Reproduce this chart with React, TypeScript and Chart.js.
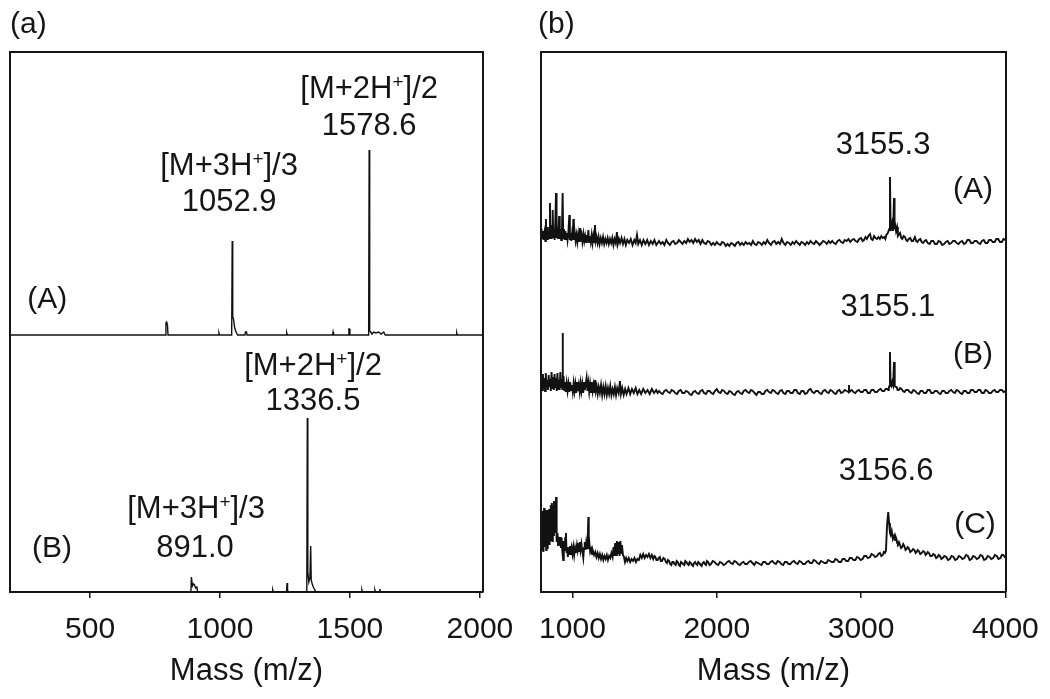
import React, { useEffect, useRef } from "react";
import { Chart, registerables } from "chart.js";

Chart.register(...registerables);

const FONT = '"Liberation Sans", Arial, Helvetica, sans-serif';
const INK = "#151515";

// ---------- Panel (a): x range and ticks ----------
const rangeA: [number, number] = [192, 2012];
const ticksA = [500, 1000, 1500, 2000];

// spectrum (A) of panel a: [m/z, intensity]
const specA_a: [number, number][] = [
  [192, 0], [790, 0], [792, 12], [795, 13], [798, 10], [800, 0], [994, 0], [996, 2], [998, 0],
  [1045, 0], [1047, 94], [1049, 18], [1052, 16], [1056, 8], [1060, 4], [1064, 2], [1068, 0],
  [1096, 0], [1098, 3], [1102, 3], [1104, 0], [1255, 0], [1257, 2], [1259, 0],
  [1433, 0], [1435, 3], [1437, 0], [1494, 0], [1496, 6], [1498, 6], [1500, 0],
  [1572, 0], [1574, 185], [1576, 4], [1580, 3], [1585, 1], [1592, 3], [1600, 2], [1610, 3],
  [1620, 1], [1630, 3], [1636, 0], [1909, 0], [1911, 2], [1913, 0], [2012, 0],
];

// spectrum (B) of panel a
const specB_a: [number, number][] = [
  [192, 0], [888, 0], [890, 15], [892, 15], [894, 6], [898, 8], [902, 7], [906, 4], [911, 5], [914, 0],
  [1201, 0], [1203, 2], [1205, 0], [1256, 0], [1258, 9], [1260, 2], [1262, 0],
  [1334, 0], [1336, 174], [1338, 20], [1342, 10], [1346, 14], [1349, 46], [1351, 12], [1355, 8],
  [1359, 5], [1363, 3], [1367, 1], [1371, 0], [1544, 0], [1546, 2], [1548, 0],
  [1594, 0], [1596, 2], [1598, 0], [1613, 0], [1615, 3], [1617, 0], [2012, 0],
];

// ---------- Panel (b): x range and ticks ----------
const rangeB: [number, number] = [782, 4004];
const ticksB = [1000, 2000, 3000, 4000];

const specA_b: [number, number][] = [
  [784, 6], [786, 14], [790, 4], [796, 12], [800, 3], [806, 10], [812, 2], [816, 24], [820, 4], [826, 16],
  [830, 3], [836, 12], [840, 5], [844, 40], [848, 6], [852, 18], [856, 4], [860, 12], [863, 33], [867, 6],
  [872, 14], [876, 3], [881, 20], [886, 50], [890, 5], [895, 16], [899, 4], [903, 12], [908, 27], [912, 4],
  [917, 14], [922, 3], [927, 12], [932, 50], [936, 5], [941, 14], [946, 3], [951, 12], [956, 4], [961, 10],
  [966, 3], [972, 11], [978, 28], [982, 3], [987, 10], [992, 2], [997, 9], [1002, 3], [1006, 24], [1010, 3],
  [1016, 10], [1022, 2], [1028, 8], [1034, 1], [1040, 9], [1046, 2], [1052, 15], [1057, 2], [1063, 8],
  [1069, 1], [1076, 9], [1082, 2], [1088, 7], [1094, 1], [1100, 8], [1105, 2], [1110, 13], [1115, 1],
  [1121, 7], [1127, 1], [1133, 8], [1139, 0], [1145, 7], [1150, 1], [1156, 18], [1161, 2], [1167, 6],
  [1174, 0], [1181, 6], [1188, -1], [1196, 5], [1204, 0], [1212, 6], [1220, -1], [1228, 4], [1236, 0],
  [1244, 5], [1252, -1], [1260, 4], [1268, 0], [1276, 5], [1284, -2], [1292, 4], [1300, 0], [1308, 11],
  [1314, -1], [1322, 4], [1330, 0], [1340, 5], [1350, -1], [1360, 4], [1370, -2], [1380, 3], [1392, 0],
  [1404, 4], [1416, -2], [1428, 3], [1438, 0], [1447, 8], [1456, -1], [1468, 3], [1480, -2], [1492, 3],
  [1505, -1], [1518, 3], [1530, -2], [1543, 2], [1556, -1], [1568, 3], [1581, -2],
  [1600, 2], [1612, -1], [1625, 1], [1637, -2], [1650, 3], [1662, 0], [1675, -2], [1688, 1], [1700, 2],
  [1712, -1], [1725, 0], [1737, 3], [1750, 1], [1762, -1], [1775, 2], [1788, 0], [1800, 4], [1812, 1],
  [1825, 3], [1837, 0], [1850, 4], [1862, 1], [1875, 3], [1887, -1], [1900, 3], [1912, 0], [1925, -1],
  [1937, 2], [1950, 1], [1962, -2], [1975, 0], [1987, -2], [2000, 1], [2012, -1], [2025, -2], [2037, 1],
  [2050, 0], [2062, -3], [2075, -1], [2087, -3], [2100, 0], [2112, -1], [2125, -3], [2137, 0], [2150, 1],
  [2162, -2], [2175, 0], [2187, -2], [2200, 1], [2212, -1], [2225, 0], [2237, -2], [2250, 2], [2262, -1],
  [2275, -2], [2287, 1], [2300, 0], [2312, -2], [2325, 1], [2337, -1], [2350, 3], [2362, 0], [2375, -2],
  [2387, 1], [2400, 2], [2412, -1], [2425, 1], [2437, -1], [2450, 4], [2462, 0], [2475, -2], [2487, 1],
  [2500, 0], [2512, -2], [2525, 1], [2537, -1], [2550, 2], [2562, 0], [2575, -2], [2587, 1], [2600, 0],
  [2612, -2], [2625, 1], [2637, -1], [2650, 2], [2662, 0], [2675, -1], [2687, 2], [2700, 0], [2712, -2],
  [2725, 0], [2737, 2], [2750, 1], [2762, -1], [2775, 2], [2787, 0], [2800, 2], [2812, 0], [2825, -1],
  [2837, 2], [2850, 3], [2862, 1], [2875, 0], [2887, 3], [2900, 2], [2912, 4], [2925, 1], [2937, 3],
  [2950, 4], [2962, 2], [2975, 1], [2987, 4], [3000, 5], [3010, 2], [3020, 3], [3030, 6], [3040, 4],
  [3050, 7], [3062, 9], [3070, 4], [3080, 3], [3090, 7], [3100, 5], [3110, 4], [3120, 6], [3130, 4],
  [3140, 7], [3150, 5], [3160, 6], [3168, 4], [3175, 8], [3185, 10], [3195, 14], [3200, 66], [3205, 12],
  [3215, 20], [3222, 12], [3228, 45], [3232, 14], [3236, 18], [3242, 12], [3249, 16], [3255, 7],
  [3260, 8], [3270, 10], [3278, 5], [3285, 4], [3295, 7], [3304, 6], [3312, 3], [3320, 2], [3330, 4],
  [3340, 5], [3350, 2], [3360, 2], [3373, 6], [3382, 2], [3390, 1], [3400, 3], [3410, 4], [3420, 1],
  [3430, 0], [3440, 2], [3450, 3], [3462, 0], [3475, -1], [3487, 2], [3500, 2], [3512, -1], [3525, -1],
  [3537, 2], [3550, 1], [3562, -2], [3575, -1], [3587, 1], [3600, 2], [3612, -1], [3625, 0], [3637, 2],
  [3650, 2], [3662, 0], [3675, -1], [3687, 1], [3700, 2], [3712, -1], [3725, 0], [3737, 3], [3750, 3],
  [3762, 0], [3775, 0], [3787, 2], [3800, 2], [3812, 0], [3825, -1], [3837, 2], [3850, 3], [3862, 0],
  [3875, 0], [3887, 3], [3900, 3], [3912, 1], [3925, 1], [3937, 4], [3950, 4], [3962, 1], [3975, 1],
  [3987, 4], [4004, 3],
];

const specB_b: [number, number][] = [
  [784, 4], [786, 16], [790, 2], [795, 18], [800, 3], [805, 14], [810, 1], [815, 19], [820, 4], [825, 12],
  [830, 2], [835, 17], [840, 5], [845, 13], [850, 1], [855, 20], [860, 3], [866, 15], [871, 2], [876, 18],
  [881, 4], [886, 14], [891, 1], [896, 19], [901, 3], [906, 12], [911, 2], [916, 20], [921, 5], [926, 13],
  [930, 3], [932, 59], [934, 4], [938, 16], [943, 2], [948, 10], [954, 0], [960, 9], [966, 1], [972, 8],
  [978, 0], [984, 10], [990, 2], [996, 7], [1002, 0], [1008, 9], [1014, 1], [1020, 8], [1026, -1],
  [1032, 10], [1038, 1], [1044, 7], [1050, 0], [1056, 9], [1062, 1], [1068, 8], [1074, -1], [1080, 10],
  [1086, 2], [1092, 8], [1098, 14], [1104, 1], [1110, 9], [1116, 0], [1122, 8], [1128, -1], [1134, 10],
  [1140, 1], [1146, 7], [1152, 0], [1156, 12], [1162, 1], [1168, 6], [1175, -2], [1182, 5], [1190, -1],
  [1198, 7], [1206, -3], [1214, 5], [1222, -2], [1230, 6], [1238, -3], [1246, 4], [1254, -2], [1262, 6],
  [1270, -3], [1278, 3], [1286, -2], [1294, 5], [1302, -3], [1310, 4], [1320, -1], [1329, 11], [1336, -2],
  [1345, 4], [1355, -3], [1365, 3], [1375, -2], [1388, 4], [1400, -2], [1412, 3], [1425, -1], [1438, 4],
  [1450, -2], [1463, 2], [1476, -2], [1490, 3], [1505, -1], [1520, 2], [1535, -2], [1550, 3], [1565, -1],
  [1580, 2], [1590, -1], [1600, 1], [1612, -1], [1625, -2], [1637, 1], [1650, 2], [1662, 0], [1675, -1],
  [1687, 2], [1700, 1], [1712, -1], [1725, -2], [1737, 1], [1750, 2], [1762, -1], [1775, -1], [1787, 1],
  [1800, 0], [1812, -2], [1825, -3], [1837, 0], [1850, 1], [1862, -1], [1875, -2], [1887, 1], [1900, 2],
  [1912, -1], [1925, -2], [1937, 1], [1950, 1], [1962, -1], [1975, -2], [1987, 1], [2000, 3], [2012, 0],
  [2025, -1], [2037, 2], [2050, 1], [2062, -1], [2075, -2], [2087, 1], [2100, 0], [2112, -2], [2125, -3],
  [2137, 0], [2150, 1], [2162, -1], [2175, -2], [2187, 1], [2200, 2], [2212, 0], [2225, -1], [2237, 2],
  [2250, 1], [2262, -1], [2275, -3], [2287, 0], [2300, 0], [2312, -2], [2325, -2], [2337, 1], [2350, 2],
  [2362, 0], [2375, -1], [2387, 2], [2400, 1], [2412, -1], [2425, -2], [2437, 1], [2450, 2], [2462, -1],
  [2475, -2], [2487, 1], [2500, 1], [2512, -1], [2525, -1], [2537, 2], [2550, 2], [2562, -1], [2575, -2],
  [2587, 1], [2600, 1], [2612, -2], [2625, -1], [2637, 2], [2650, 3], [2662, 0], [2675, -1], [2687, 1],
  [2700, 1], [2712, -1], [2725, -2], [2737, 1], [2750, 2], [2762, 0], [2775, -1], [2787, 2], [2800, 1],
  [2812, -1], [2825, -2], [2837, 1], [2850, 2], [2862, -1], [2875, 0], [2887, 2], [2900, 1], [2914, 0],
  [2916, 7], [2918, 0], [2925, 1], [2935, 2], [2947, 0], [2960, -1], [2972, 1], [2985, 2], [2997, 0],
  [3010, 0], [3022, 2], [3035, 2], [3047, -1], [3060, -1], [3072, 2], [3085, 2], [3097, 0], [3110, 0],
  [3122, 2], [3135, 3], [3147, 1], [3160, 1], [3170, 3], [3180, 3], [3188, 2], [3192, 4], [3196, 6],
  [3200, 40], [3204, 8], [3210, 6], [3216, 10], [3222, 7], [3228, 30], [3232, 9], [3234, 6], [3240, 5],
  [3246, 5], [3253, 2], [3260, 2], [3270, 4], [3280, 3], [3290, 1], [3300, 0], [3312, 2], [3325, 2],
  [3337, 0], [3350, -1], [3362, 2], [3375, 1], [3387, -1], [3400, -2], [3412, 1], [3425, 1], [3437, -1],
  [3450, -1], [3462, 2], [3475, 2], [3487, -1], [3500, -1], [3512, 1], [3525, 1], [3537, -1], [3550, -2],
  [3562, 1], [3575, 1], [3587, -1], [3600, -1], [3612, 1], [3625, 2], [3637, 0], [3650, -1], [3662, 2],
  [3675, 1], [3687, -1], [3700, -2], [3712, 1], [3725, 1], [3737, -1], [3750, -1], [3762, 2], [3775, 2],
  [3787, 0], [3800, 0], [3812, 2], [3825, 2], [3837, -1], [3850, -1], [3862, 2], [3875, 1], [3887, -1],
  [3900, -1], [3912, 1], [3925, 2], [3937, 0], [3950, 0], [3962, 2], [3975, 2], [3987, 0], [4004, 1],
];

const specC_b: [number, number][] = [
  [784, 40], [785, 12], [786, 48], [788, 15], [790, 52], [792, 14], [794, 50], [796, 18], [798, 45],
  [800, 11], [803, 55], [806, 16], [809, 50], [812, 20], [815, 53], [818, 13], [821, 50], [824, 18],
  [827, 53], [830, 14], [833, 50], [836, 21], [839, 54], [842, 18], [845, 52], [848, 22], [851, 58],
  [854, 25], [857, 60], [860, 22], [864, 58], [868, 28], [872, 62], [876, 30], [880, 60], [884, 35],
  [886, 66], [889, 40], [892, 21], [896, 30], [900, 18], [904, 26], [907, 23], [911, 18], [915, 26],
  [920, 15], [925, 25], [930, 12], [936, 3], [940, 22], [945, 12], [950, 25], [955, 30], [959, 10],
  [963, 16], [968, 6], [973, 15], [978, 8], [983, 17], [988, 8], [994, 15], [1000, 9], [1006, 16],
  [1012, 8], [1018, 15], [1024, 10], [1031, 18], [1036, 13], [1041, 20], [1046, 12], [1051, 21],
  [1056, 13], [1062, 19], [1068, 12], [1075, 5], [1080, 15], [1085, 21], [1090, 13], [1095, 20],
  [1100, 14], [1105, 19], [1110, 46], [1113, 14], [1118, 19], [1123, 11], [1130, 14], [1136, 9],
  [1142, 12], [1150, 8], [1158, 11], [1166, 6], [1174, 10], [1182, 5], [1190, 9], [1198, 4], [1206, 8],
  [1214, 3], [1222, 7], [1230, 4], [1238, 8], [1246, 3], [1254, 7], [1262, 5], [1270, 10], [1278, 6],
  [1284, 16], [1290, 7], [1296, 20], [1302, 8], [1308, 22], [1314, 9], [1320, 21], [1326, 7], [1332, 22],
  [1338, 10], [1343, 18], [1350, 8], [1357, 6], [1364, 1], [1372, 5], [1380, 2], [1390, 5], [1400, 1],
  [1410, 4], [1420, 2], [1430, 5], [1440, 1], [1450, 4], [1460, 3], [1470, 8], [1480, 5], [1490, 9],
  [1500, 5], [1510, 8], [1520, 6], [1530, 9], [1540, 5], [1550, 8], [1560, 4], [1568, 7], [1575, 6],
  [1582, 3], [1590, 3], [1597, 5], [1605, 6], [1612, 2], [1620, 2], [1630, 5], [1640, 4], [1647, 1],
  [1655, 0], [1662, 3], [1670, 2], [1677, -1], [1685, -2], [1692, 1], [1700, 1], [1707, -1], [1715, -2],
  [1722, 2], [1730, 1], [1737, -2], [1745, -3], [1752, 1], [1760, 0], [1767, -1], [1775, -2], [1782, 2],
  [1790, 1], [1797, -1], [1805, -2], [1812, 1], [1820, 0], [1827, -2], [1835, -3], [1842, 0], [1850, 1],
  [1857, -1], [1865, -2], [1872, 1], [1880, 0], [1887, -2], [1895, -3], [1902, 0], [1910, 1], [1917, -1],
  [1925, -2], [1932, 2], [1940, 1], [1950, -2], [1960, -1], [1972, 2], [1985, 1], [1997, -1], [2010, -2],
  [2022, 1], [2035, 0], [2047, -2], [2060, -1], [2072, 1], [2085, 2], [2097, 0], [2110, -1], [2122, 2],
  [2135, 1], [2147, -1], [2160, -2], [2172, 0], [2185, 1], [2197, -1], [2210, -1], [2222, 1], [2235, 2],
  [2247, 0], [2260, -2], [2272, 1], [2285, 0], [2297, -1], [2310, -2], [2322, 1], [2335, 1], [2347, -1],
  [2360, -1], [2372, 1], [2385, 2], [2397, 0], [2410, -1], [2422, 2], [2435, 1], [2447, -1], [2460, -2],
  [2472, 1], [2485, 1], [2497, -1], [2510, -1], [2522, 1], [2535, 2], [2547, 0], [2560, -1], [2572, 2],
  [2585, 1], [2597, -1], [2610, -1], [2622, 1], [2635, 2], [2647, 0], [2660, 0], [2672, 3], [2685, 2],
  [2697, 0], [2710, -1], [2722, 2], [2735, 1], [2747, 0], [2760, 0], [2772, 3], [2785, 2], [2797, 1],
  [2810, 1], [2822, 4], [2835, 3], [2847, 1], [2860, 1], [2872, 4], [2885, 4], [2897, 2], [2910, 2],
  [2922, 5], [2935, 5], [2947, 3], [2960, 3], [2972, 6], [2985, 5], [2997, 3], [3010, 4], [3022, 7],
  [3035, 7], [3047, 5], [3062, 6], [3072, 9], [3085, 8], [3097, 6], [3110, 7], [3120, 9], [3130, 10],
  [3140, 7], [3150, 8], [3158, 11], [3165, 10], [3172, 12], [3180, 38], [3188, 51], [3194, 40], [3200, 30],
  [3205, 28], [3212, 32], [3220, 24], [3228, 27], [3235, 23], [3240, 26], [3245, 24], [3250, 20],
  [3255, 19], [3262, 21], [3270, 18], [3277, 15], [3285, 16], [3292, 19], [3300, 17], [3308, 13],
  [3316, 14], [3322, 16], [3330, 15], [3340, 11], [3350, 12], [3360, 14], [3370, 13], [3378, 10],
  [3385, 11], [3392, 13], [3400, 12], [3410, 9], [3420, 10], [3430, 12], [3440, 11], [3447, 8],
  [3454, 9], [3462, 11], [3470, 10], [3480, 7], [3490, 7], [3500, 9], [3510, 8], [3520, 5], [3530, 6],
  [3538, 8], [3547, 7], [3556, 4], [3565, 5], [3577, 7], [3590, 6], [3602, 3], [3615, 4], [3627, 7],
  [3640, 6], [3652, 3], [3665, 4], [3677, 7], [3690, 6], [3702, 4], [3715, 5], [3727, 8], [3740, 7],
  [3752, 3], [3765, 4], [3777, 7], [3790, 6], [3802, 4], [3815, 5], [3827, 8], [3840, 7], [3852, 3],
  [3865, 4], [3877, 7], [3890, 6], [3902, 4], [3915, 5], [3927, 8], [3940, 7], [3952, 4], [3965, 5],
  [3975, 8], [3985, 8], [3995, 6], [4004, 7],
];

// vertical stacking offsets (layout)
const OFFSET_A_a = 257;
const OFFSET_B_a = 0;
const OFFSET_A_b = 349;
const OFFSET_B_b = 200;
const OFFSET_C_b = 29;

type Seg = [string, boolean];
type Label = { x: number; y: number; segs: Seg[]; size: number };

const labelsA: Label[] = [
  { x: 1574, y: 494, segs: [["[M+2H", false], ["+", true], ["]/2", false]], size: 31 },
  { x: 1574, y: 457, segs: [["1578.6", false]], size: 31 },
  { x: 1035, y: 417, segs: [["[M+3H", false], ["+", true], ["]/3", false]], size: 31 },
  { x: 1035, y: 381, segs: [["1052.9", false]], size: 31 },
  { x: 335, y: 284, segs: [["(A)", false]], size: 30 },
  { x: 1358, y: 217, segs: [["[M+2H", false], ["+", true], ["]/2", false]], size: 31 },
  { x: 1358, y: 182, segs: [["1336.5", false]], size: 31 },
  { x: 908, y: 74, segs: [["[M+3H", false], ["+", true], ["]/3", false]], size: 31 },
  { x: 904, y: 35, segs: [["891.0", false]], size: 31 },
  { x: 354, y: 35, segs: [["(B)", false]], size: 30 },
];

const labelsB: Label[] = [
  { x: 3152, y: 438, segs: [["3155.3", false]], size: 31 },
  { x: 3775, y: 394, segs: [["(A)", false]], size: 30 },
  { x: 3186, y: 276, segs: [["3155.1", false]], size: 31 },
  { x: 3775, y: 229, segs: [["(B)", false]], size: 30 },
  { x: 3173, y: 112, segs: [["3156.6", false]], size: 31 },
  { x: 3789, y: 59, segs: [["(C)", false]], size: 30 },
];

function drawRich(ctx: CanvasRenderingContext2D, segs: Seg[], cx: number, by: number, size: number) {
  const supSize = Math.round(size * 0.62);
  const widths = segs.map(([t, sup]) => {
    ctx.font = `${sup ? supSize : size}px ${FONT}`;
    return ctx.measureText(t).width;
  });
  const total = widths.reduce((a, b) => a + b, 0);
  let x = cx - total / 2;
  ctx.textAlign = "left";
  ctx.textBaseline = "alphabetic";
  segs.forEach(([t, sup], i) => {
    ctx.font = `${sup ? supSize : size}px ${FONT}`;
    ctx.fillText(t, x, sup ? by - size * 0.33 : by);
    x += widths[i];
  });
}

function makePlugin(id: string, header: string, headerDx: number, labels: Label[]) {
  return {
    id,
    afterDraw(chart: any) {
      const { ctx, chartArea, scales } = chart;
      ctx.save();
      ctx.strokeStyle = INK;
      ctx.lineWidth = 2;
      ctx.beginPath();
      ctx.moveTo(chartArea.left, chartArea.bottom);
      ctx.lineTo(chartArea.left, chartArea.top);
      ctx.lineTo(chartArea.right, chartArea.top);
      ctx.lineTo(chartArea.right, chartArea.bottom);
      ctx.stroke();
      ctx.fillStyle = INK;
      ctx.font = `30px ${FONT}`;
      ctx.textAlign = "left";
      ctx.textBaseline = "alphabetic";
      ctx.fillText(header, chartArea.left + headerDx, chartArea.top - 19);
      for (const lab of labels) {
        const px = scales.x.getPixelForValue(lab.x);
        const py = scales.y.getPixelForValue(lab.y);
        drawRich(ctx, lab.segs, px, py, lab.size);
      }
      ctx.restore();
    },
  };
}

function toPoints(pts: [number, number][], offset: number) {
  return pts.map(([m, v]) => ({ x: m, y: offset + v }));
}

function makeOptions(range: [number, number], ticks: number[], padding: any): any {
  return {
    responsive: false,
    animation: false,
    events: [],
    layout: { padding },
    plugins: { legend: { display: false }, tooltip: { enabled: false }, title: { display: false } },
    elements: { point: { radius: 0 }, line: { tension: 0 } },
    scales: {
      x: {
        type: "linear",
        position: "bottom",
        min: range[0],
        max: range[1],
        afterBuildTicks: (s: any) => {
          s.ticks = ticks.map((v) => ({ value: v }));
        },
        afterFit: (s: any) => {
          s.height = 107;
        },
        ticks: {
          callback: (v: any) => String(v),
          font: { family: FONT, size: 30, lineHeight: 2.1 },
          color: INK,
          padding: 0,
          maxRotation: 0,
          autoSkip: false,
        },
        grid: { drawOnChartArea: false, drawTicks: true, tickLength: 6, color: INK, lineWidth: 1.5 },
        border: { display: true, color: INK, width: 2 },
        title: {
          display: true,
          text: "Mass (m/z)",
          font: { family: FONT, size: 31 },
          color: INK,
          padding: { top: 0, bottom: 9 },
        },
      },
      y: { display: false, min: 0, max: 540 },
    },
  };
}

export default function App() {
  const refA = useRef<HTMLCanvasElement>(null);
  const refB = useRef<HTMLCanvasElement>(null);

  useEffect(() => {
    const lineStyle = { borderColor: "#111", showLine: true, fill: false, pointRadius: 0 };
    const chartA = new Chart(refA.current as HTMLCanvasElement, {
      type: "line",
      data: {
        datasets: [
          { ...lineStyle, borderWidth: 1.4, data: toPoints(specA_a, OFFSET_A_a) },
          { ...lineStyle, borderWidth: 1.4, data: toPoints(specB_a, OFFSET_B_a) },
        ],
      },
      options: makeOptions(rangeA, ticksA, { left: 10, right: 37, top: 52, bottom: 0 }),
      plugins: [makePlugin("panelA", "(a)", 0, labelsA)],
    } as any);
    const chartB = new Chart(refB.current as HTMLCanvasElement, {
      type: "line",
      data: {
        datasets: [
          { ...lineStyle, borderWidth: 1.9, data: toPoints(specA_b, OFFSET_A_b) },
          { ...lineStyle, borderWidth: 1.9, data: toPoints(specB_b, OFFSET_B_b) },
          { ...lineStyle, borderWidth: 1.9, data: toPoints(specC_b, OFFSET_C_b) },
        ],
      },
      options: makeOptions(rangeB, ticksB, { left: 21, right: 44, top: 52, bottom: 0 }),
      plugins: [makePlugin("panelB", "(b)", -3, labelsB)],
    } as any);
    return () => {
      chartA.destroy();
      chartB.destroy();
    };
  }, []);

  return (
    <div style={{ position: "fixed", left: 0, top: 0, width: 1050, height: 699, background: "#fff" }}>
      <canvas ref={refA} width={520} height={699} style={{ position: "absolute", left: 0, top: 0 }} />
      <canvas ref={refB} width={530} height={699} style={{ position: "absolute", left: 520, top: 0 }} />
    </div>
  );
}
